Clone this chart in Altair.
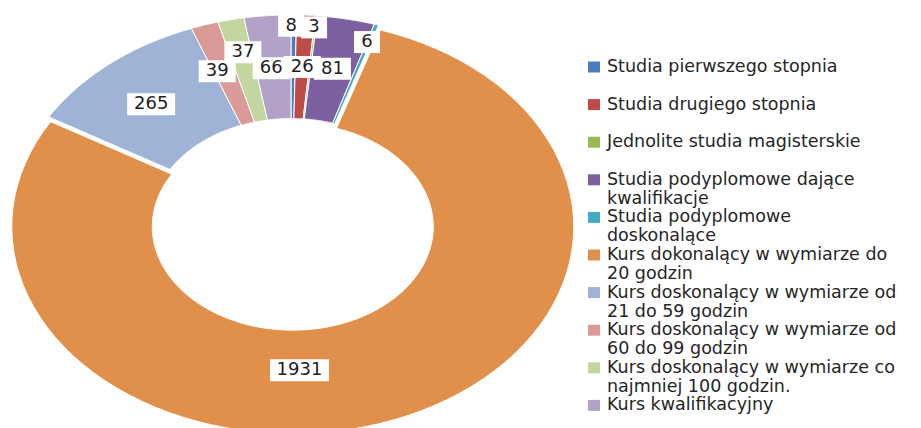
import altair as alt
import pandas as pd

# ---- data -------------------------------------------------------------
categories = [
    "Studia pierwszego stopnia",
    "Studia drugiego stopnia",
    "Jednolite studia magisterskie",
    "Studia podyplomowe dające kwalifikacje",
    "Studia podyplomowe doskonalące",
    "Kurs dokonalący w wymiarze do 20 godzin",
    "Kurs doskonalący w wymiarze od 21 do 59 godzin",
    "Kurs doskonalący w wymiarze od 60 do 99 godzin",
    "Kurs doskonalący w wymiarze co najmniej 100 godzin.",
    "Kurs kwalifikacyjny",
]
values = [8, 26, 3, 81, 6, 1931, 265, 39, 37, 66]
legend_line1 = [
    "Studia pierwszego stopnia",
    "Studia drugiego stopnia",
    "Jednolite studia magisterskie",
    "Studia podyplomowe dające",
    "Studia podyplomowe",
    "Kurs dokonalący w wymiarze do",
    "Kurs doskonalący w wymiarze od",
    "Kurs doskonalący w wymiarze od",
    "Kurs doskonalący w wymiarze co",
    "Kurs kwalifikacyjny",
]
legend_line2 = ["", "", "", "kwalifikacje", "doskonalące", "20 godzin",
                "21 do 59 godzin", "60 do 99 godzin", "najmniej 100 godzin.", ""]

# ---- styling / layout ---------------------------------------------------
colors = ["#4A7EBB", "#BE4B48", "#98B954", "#7D60A0", "#46AAC5", "#E0904A",
          "#9FB3D6", "#D99A98", "#C3D69F", "#B2A2C7"]
W, H = 905, 420
CX, CY, RX, RY = 291, 222, 281, 207
HOLE = 0.5
N = 90
explode = {"Kurs dokonalący w wymiarze do 20 godzin": 5}
# label nudges (pixels) away from the default mid-angle position
label_nudge = {
    "Studia pierwszego stopnia": (-2, -41),
    "Studia drugiego stopnia": (0, 0),
    "Jednolite studia magisterskie": (4, -40),
    "Studia podyplomowe dające kwalifikacje": (0, -1),
    "Studia podyplomowe doskonalące": (12, -32),
    "Kurs dokonalący w wymiarze do 20 godzin": (-66, 3),
    "Kurs doskonalący w wymiarze od 21 do 59 godzin": (-4, 1),
    "Kurs doskonalący w wymiarze od 60 do 99 godzin": (-9, -3),
    "Kurs doskonalący w wymiarze co najmniej 100 godzin.": (-3, -18),
    "Kurs kwalifikacyjny": (-2, 1),
}
FONT = "DejaVu Sans"
FS = 17.5
FS_LAB = 18

df = pd.DataFrame({
    "idx": list(range(len(categories))),
    "cat": categories,
    "val": values,
    "ex": [explode.get(c, 0) for c in categories],
    "ndx": [label_nudge[c][0] for c in categories],
    "ndy": [label_nudge[c][1] for c in categories],
})
leg = pd.DataFrame({
    "idx": list(range(len(categories))),
    "cat": categories,
    "l1": legend_line1,
    "l2": legend_line2,
})

xs = alt.Scale(domain=[8, 8 + W], nice=False, zero=False)
ys = alt.Scale(domain=[8, 8 + H], nice=False, zero=False, reverse=True)
cs = alt.Scale(domain=categories, range=colors)

base = (
    alt.Chart(df)
    .transform_window(cum="sum(val)", sort=[alt.SortField("idx")], frame=[None, 0])
    .transform_joinaggregate(total="sum(val)")
    .transform_calculate(
        a0="2*PI*(datum.cum-datum.val)/datum.total",
        a1="2*PI*datum.cum/datum.total",
    )
    .transform_calculate(am="(datum.a0+datum.a1)/2")
)

ring = (
    base.transform_calculate(k=f"sequence(0, {2 * N + 2})")
    .transform_flatten(["k"])
    .transform_calculate(
        t=f"datum.k <= {N} ? datum.k/{N} : ({2 * N + 1}-datum.k)/{N}",
        rf=f"datum.k <= {N} ? 1 : {HOLE}",
    )
    .transform_calculate(ang="datum.a0 + (datum.a1-datum.a0)*datum.t")
    .transform_calculate(
        px=f"{CX} + datum.ex*sin(datum.am) + {RX}*datum.rf*sin(datum.ang)",
        py=f"{CY} - datum.ex*cos(datum.am) - {RY}*datum.rf*cos(datum.ang)",
    )
    .mark_line(filled=True, interpolate="linear-closed", stroke="white",
               strokeWidth=1, clip=True)
    .encode(
        x=alt.X("px:Q", scale=xs, axis=None),
        y=alt.Y("py:Q", scale=ys, axis=None),
        color=alt.Color("cat:N", scale=cs, legend=None),
        detail="cat:N",
        order="k:Q",
    )
)

lab = base.transform_calculate(
    lx=f"{CX} + {0.75 * RX}*sin(datum.am) + datum.ndx",
    ly=f"{CY} - {0.75 * RY}*cos(datum.am) + datum.ndy",
    lw="length(toString(datum.val))*11 + 15",
).transform_calculate(
    lx0="datum.lx - datum.lw/2", lx1="datum.lx + datum.lw/2",
    ly0="datum.ly - 11", ly1="datum.ly + 11",
)
boxes = lab.mark_rect(fill="white", clip=True).encode(
    x=alt.X("lx0:Q", scale=xs, axis=None), x2="lx1:Q",
    y=alt.Y("ly0:Q", scale=ys, axis=None), y2="ly1:Q",
)
texts = lab.mark_text(font=FONT, fontSize=FS_LAB, color="#1e1e1e",
                      align="center", baseline="middle").encode(
    x=alt.X("lx:Q", scale=xs, axis=None),
    y=alt.Y("ly:Q", scale=ys, axis=None),
    text="val:Q",
)

LEG_Y0, LEG_STEP = 67, 37.6
legb = alt.Chart(leg).transform_calculate(
    ly=f"{LEG_Y0} + {LEG_STEP}*datum.idx",
).transform_calculate(
    ly2="datum.ly + 19", sy0="datum.ly - 5.5", sy1="datum.ly + 5.5",
    sx0="588", sx1="600", tx="607",
)
squares = legb.mark_rect().encode(
    x=alt.X("sx0:Q", scale=xs, axis=None), x2="sx1:Q",
    y=alt.Y("sy0:Q", scale=ys, axis=None), y2="sy1:Q",
    color=alt.Color("cat:N", scale=cs, legend=None),
)
lt1 = legb.mark_text(font=FONT, fontSize=FS, color="#262626",
                     align="left", baseline="middle").encode(
    x=alt.X("tx:Q", scale=xs, axis=None),
    y=alt.Y("ly:Q", scale=ys, axis=None),
    text="l1:N",
)
lt2 = legb.transform_filter("datum.l2 != ''").mark_text(
    font=FONT, fontSize=FS, color="#262626", align="left", baseline="middle"
).encode(
    x=alt.X("tx:Q", scale=xs, axis=None),
    y=alt.Y("ly2:Q", scale=ys, axis=None),
    text="l2:N",
)

chart = (
    alt.layer(ring, boxes, texts, squares, lt1, lt2)
    .properties(width=W, height=H, padding=0,
                autosize=alt.AutoSizeParams(type="none"))
    .configure_view(stroke=None)
)
chart.save("out.html", embed_options={"renderer": "svg", "actions": False})
